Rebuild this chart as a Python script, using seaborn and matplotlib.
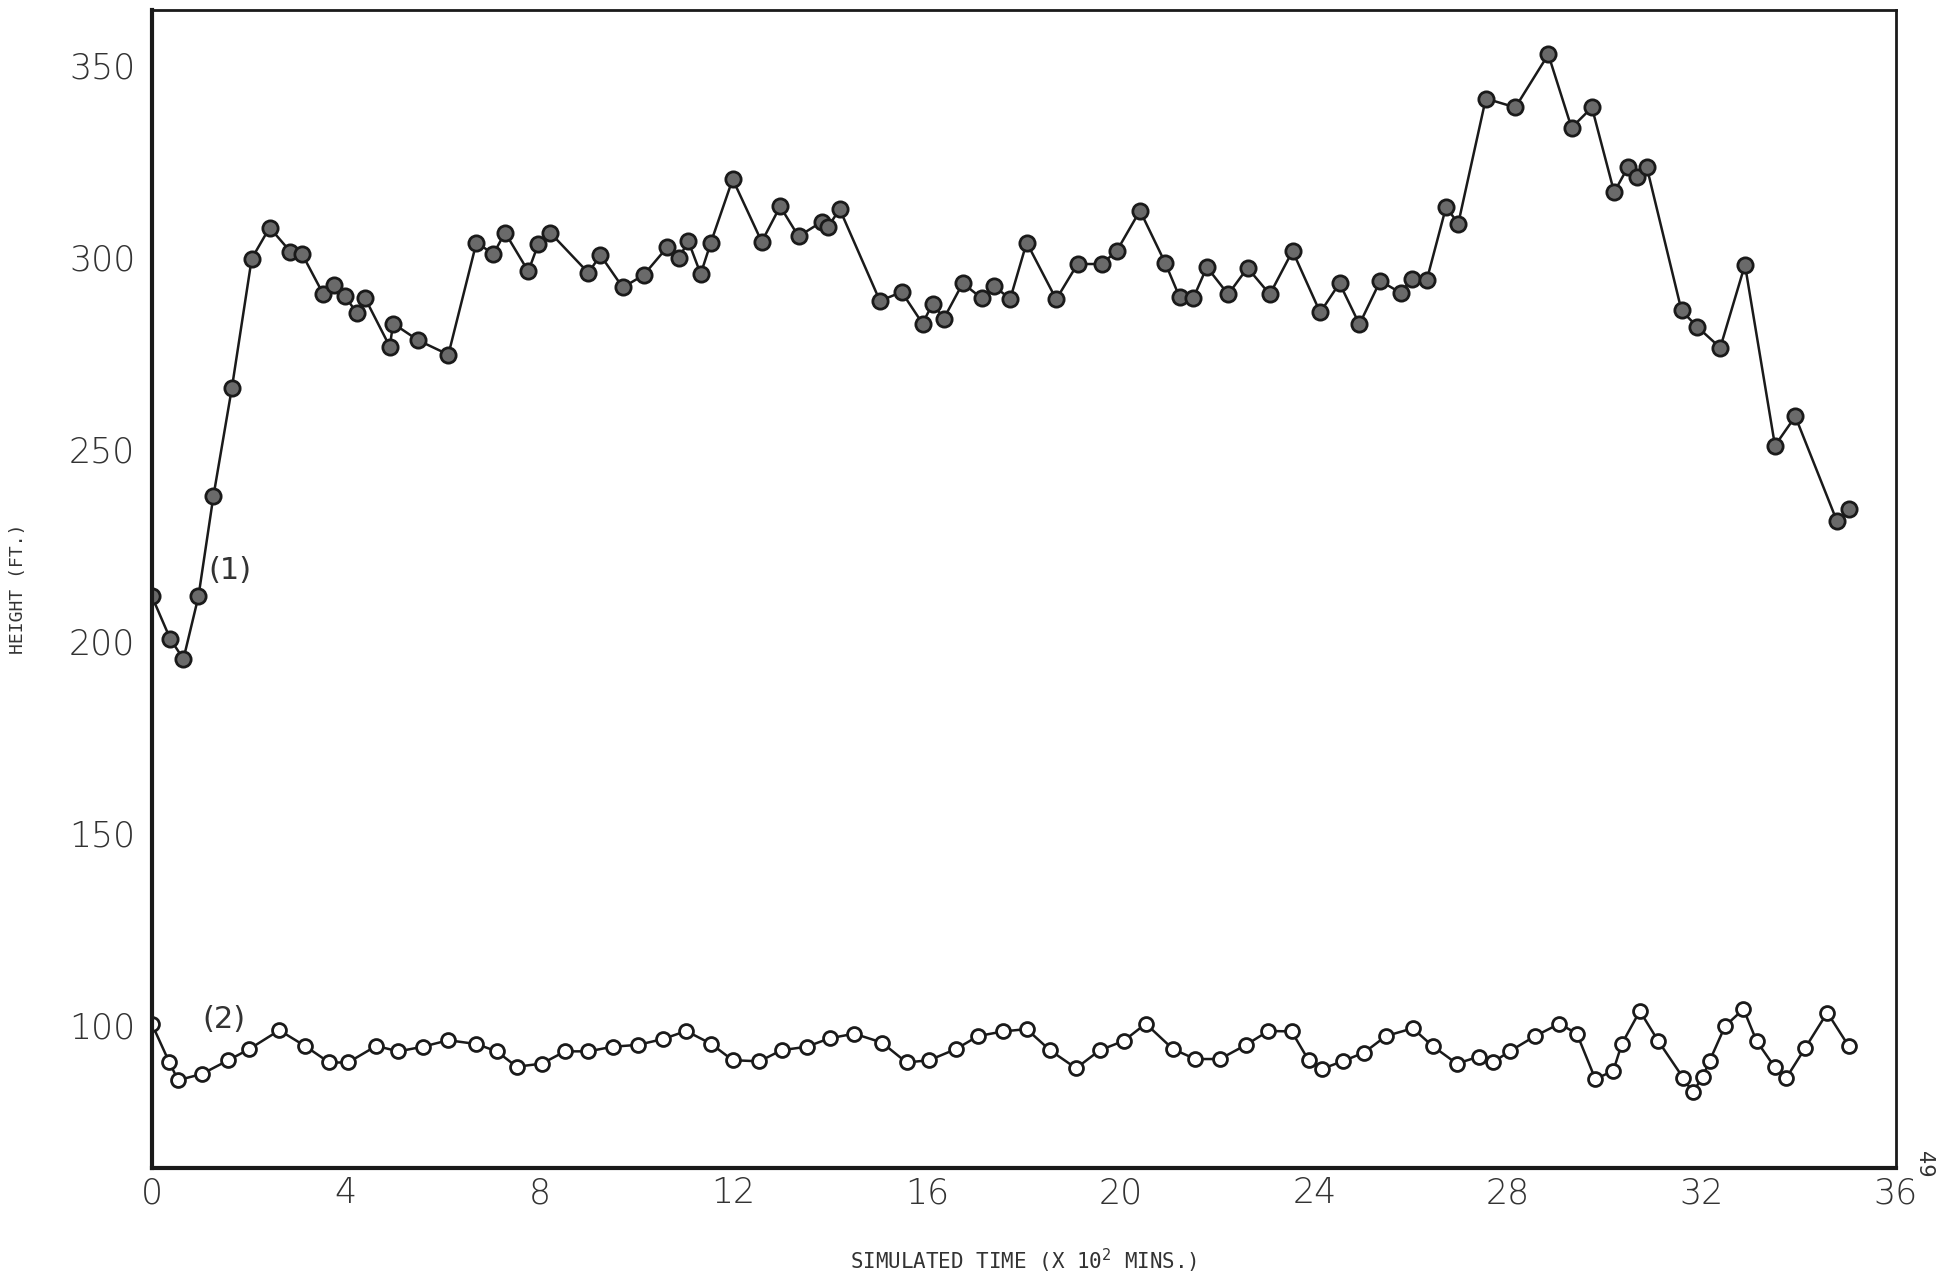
import matplotlib
matplotlib.use("Agg")
import matplotlib.pyplot as plt
import seaborn as sns
import numpy as np

# ---- data (time in 10^2 mins, height in ft) ----
t1 = [0.0, 0.38, 0.65, 0.96, 1.27, 1.65, 2.06, 2.43, 2.86, 3.10, 3.54, 3.75, 3.99, 4.23, 4.40,
      4.91, 4.98, 5.50, 6.12, 6.70, 7.05, 7.29, 7.77, 7.98, 8.22, 9.01, 9.26, 9.72, 10.15, 10.64,
      10.89, 11.07, 11.33, 11.54, 11.99, 12.59, 12.97, 13.35, 13.83, 13.96, 14.20, 15.03, 15.48,
      15.91, 16.12, 16.35, 16.74, 17.13, 17.39, 17.72, 18.06, 18.67, 19.11, 19.61, 19.92, 20.40,
      20.92, 21.22, 21.50, 21.78, 22.22, 22.62, 23.08, 23.55, 24.12, 24.52, 24.93, 25.36, 25.78,
      26.01, 26.32, 26.72, 26.97, 27.54, 28.15, 28.83, 29.31, 29.73, 30.19, 30.48, 30.66, 30.86,
      31.58, 31.90, 32.38, 32.89, 33.51, 33.93, 34.79, 35.03]
h1 = [211.6, 200.5, 195.3, 211.6, 237.8, 265.9, 299.6, 307.7, 301.4, 300.8, 290.3, 292.8, 289.8,
      285.4, 289.3, 276.7, 282.7, 278.3, 274.6, 303.8, 300.8, 306.4, 296.3, 303.5, 306.4, 295.9,
      300.5, 292.1, 295.3, 302.6, 299.8, 304.3, 295.6, 303.8, 320.3, 304.0, 313.2, 305.4, 309.2,
      307.9, 312.5, 288.6, 290.9, 282.7, 287.9, 284.0, 293.2, 289.3, 292.4, 289.1, 303.8, 289.0,
      298.2, 298.2, 301.6, 312.1, 298.5, 289.5, 289.3, 297.4, 290.3, 297.2, 290.3, 301.6, 285.6,
      293.2, 282.5, 293.8, 290.7, 294.3, 294.0, 313.1, 308.7, 341.3, 339.0, 352.8, 333.7, 339.0,
      316.9, 323.6, 320.8, 323.6, 286.1, 281.9, 276.4, 298.0, 250.9, 258.5, 231.2, 234.3]

t2 = [0.0, 0.36, 0.54, 1.03, 1.58, 2.01, 2.63, 3.16, 3.66, 4.05, 4.63, 5.09, 5.59, 6.12, 6.70,
      7.12, 7.53, 8.05, 8.53, 9.01, 9.51, 10.04, 10.55, 11.03, 11.54, 11.99, 12.54, 13.00, 13.52,
      13.99, 14.50, 15.07, 15.58, 16.05, 16.60, 17.06, 17.58, 18.06, 18.54, 19.08, 19.57, 20.06,
      20.52, 21.08, 21.54, 22.05, 22.59, 23.05, 23.53, 23.88, 24.15, 24.60, 25.03, 25.48, 26.03,
      26.44, 26.94, 27.39, 27.68, 28.03, 28.56, 29.06, 29.42, 29.80, 30.17, 30.35, 30.72, 31.10,
      31.62, 31.81, 32.02, 32.16, 32.48, 32.86, 33.13, 33.51, 33.74, 34.13, 34.59, 35.03]
h2 = [100.2, 90.2, 85.6, 87.2, 90.8, 93.7, 98.6, 94.5, 90.2, 90.2, 94.5, 93.1, 94.3, 96.0, 95.0,
      93.1, 89.1, 89.9, 93.1, 93.1, 94.3, 94.8, 96.3, 98.4, 95.1, 90.8, 90.5, 93.4, 94.3, 96.5,
      97.7, 95.4, 90.2, 90.8, 93.7, 97.1, 98.3, 98.9, 93.4, 88.7, 93.4, 95.8, 100.3, 93.7, 91.1,
      91.1, 94.8, 98.4, 98.3, 90.8, 88.5, 90.6, 92.8, 97.1, 99.1, 94.5, 89.9, 91.7, 90.2, 93.1,
      97.1, 100.3, 97.7, 85.9, 88.0, 95.1, 103.6, 95.8, 86.1, 82.4, 86.5, 90.6, 99.7, 104.1,
      95.8, 88.9, 86.1, 93.9, 103.2, 94.5]

x_ticks = [0, 4, 8, 12, 16, 20, 24, 28, 32, 36]
y_ticks = [100, 150, 200, 250, 300, 350]
y_tick_labels = ["100", "150", "200", "250", "300", "350"]

sns.set_theme(style="white")
plt.rcParams['font.family'] = ['DejaVu Sans']

fig = plt.figure(figsize=(19.53, 12.84), dpi=100)
ax = fig.add_axes([0.0778, 0.0903, 0.8928, 0.9017])

ink = "#1a1a1a"
sns.lineplot(x=t1, y=h1, ax=ax, color=ink, linewidth=1.8, marker="o", markersize=11,
             markerfacecolor="#6a6a6a", markeredgecolor=ink, markeredgewidth=2.0,
             estimator=None, sort=False)
sns.lineplot(x=t2, y=h2, ax=ax, color=ink, linewidth=1.8, marker="o", markersize=10,
             markerfacecolor="white", markeredgecolor=ink, markeredgewidth=2.0,
             estimator=None, sort=False)

ax.set_xlim(0, 36)
ax.set_ylim(62.7, 364.3)
ax.set_xticks(x_ticks)
ax.set_xticklabels([str(v) for v in x_ticks], fontsize=25, color="#333333", fontweight="light")
ax.set_yticks(y_ticks)
ax.set_yticklabels(y_tick_labels, fontsize=25, color="#333333", fontweight="light")
ax.tick_params(axis="x", direction="in", length=9, width=1.2, pad=6, colors=ink, labelcolor="#333333")
ax.tick_params(axis="y", direction="out", length=8, width=1.2, pad=4, colors=ink, labelcolor="#333333")

for side in ["left", "bottom"]:
    ax.spines[side].set_linewidth(3.0)
    ax.spines[side].set_color(ink)
for side in ["top", "right"]:
    ax.spines[side].set_linewidth(2.0)
    ax.spines[side].set_color(ink)
    ax.spines[side].set_visible(True)

ax.set_xlabel("SIMULATED TIME (X 10$^2$ MINS.)", fontsize=15, color="#333333", labelpad=26,
              family="DejaVu Sans Mono")
ax.set_ylabel("HEIGHT (FT.)", fontsize=13, color="#333333", labelpad=30,
              family="DejaVu Sans Mono")

ax.text(1.62, 218.4, "(1)", fontsize=22, color="#333333", ha="center", va="center")
ax.text(1.49, 101.5, "(2)", fontsize=22, color="#333333", ha="center", va="center")

fig.text(0.985, 0.093, "49", fontsize=15, color="#333333", rotation=-90,
         ha="center", va="center")

ax.grid(False)
fig.savefig("out.png", dpi=100, facecolor="white")
